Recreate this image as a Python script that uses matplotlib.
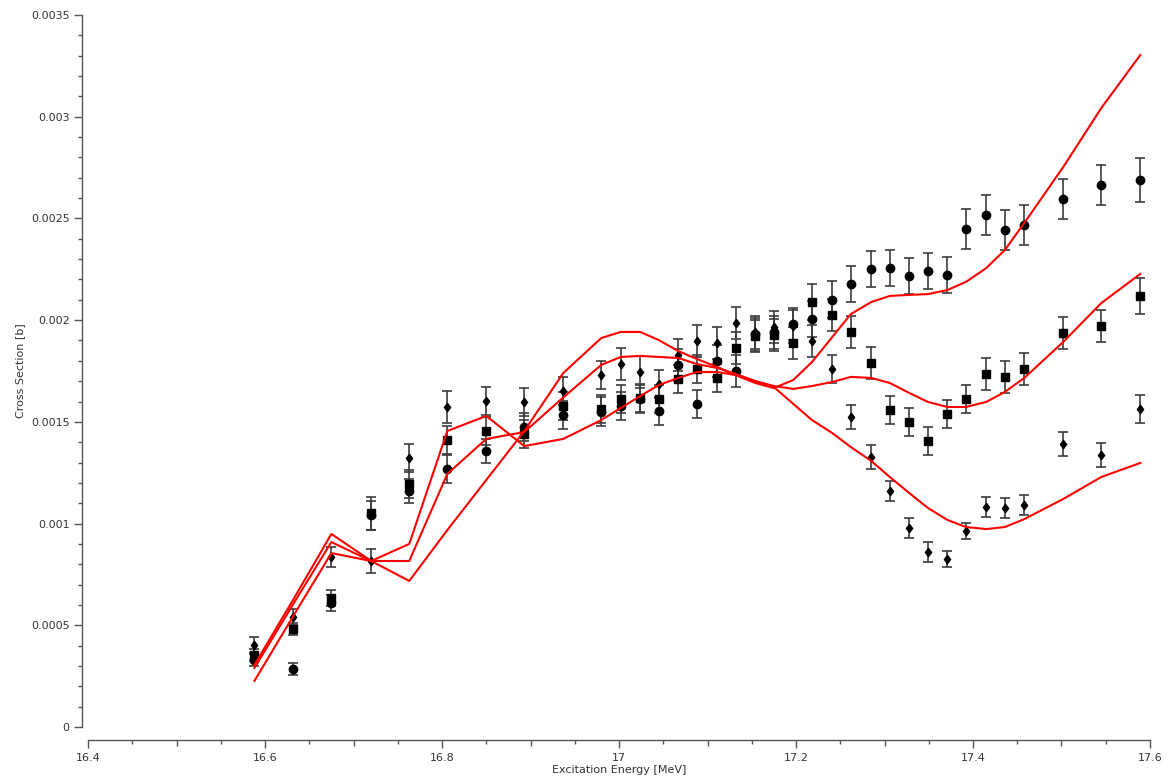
import matplotlib
matplotlib.use("Agg")
import matplotlib.pyplot as plt
from matplotlib.path import Path
from matplotlib.ticker import MultipleLocator, FuncFormatter

# Excitation energies [MeV] of the measured points (model curves share the grid)
energy = [16.588, 16.632, 16.675, 16.720, 16.763, 16.806, 16.850, 16.893,
          16.937, 16.980, 17.002, 17.024, 17.045, 17.067, 17.088, 17.111,
          17.132, 17.154, 17.175, 17.197, 17.218, 17.241, 17.262, 17.285,
          17.306, 17.328, 17.349, 17.371, 17.392, 17.415, 17.436, 17.458,
          17.502, 17.545, 17.589]

# Measured cross sections [b], three data sets
xs_circle = [0.000329, 0.000285, 0.000610, 0.001040, 0.001160, 0.001268, 0.001357,
             0.001475, 0.001534, 0.001550, 0.001578, 0.001612, 0.001553, 0.001780,
             0.001588, 0.001799, 0.001750, 0.001930, 0.001940, 0.001980, 0.002006,
             0.002100, 0.002178, 0.002251, 0.002256, 0.002217, 0.002242, 0.002222,
             0.002448, 0.002517, 0.002443, 0.002468, 0.002595, 0.002664, 0.002689]
err_circle = [0.00003, 0.00003, 0.00004, 0.00007, 0.00006, 0.00007, 0.00006,
              0.00007, 0.00007, 0.00007, 0.00007, 0.00007, 0.00007, 0.00008,
              0.00007, 0.00008, 0.00008, 0.00008, 0.00008, 0.00008, 0.00009,
              0.00009, 0.00009, 0.00009, 0.00009, 0.00009, 0.00009, 0.00009,
              0.00010, 0.00010, 0.00010, 0.00010, 0.00010, 0.00010, 0.00011]

xs_square = [0.000354, 0.000482, 0.000634, 0.001050, 0.001195, 0.001411, 0.001455,
             0.001440, 0.001578, 0.001563, 0.001612, 0.001617, 0.001612, 0.001711,
             0.001760, 0.001716, 0.001863, 0.001922, 0.001927, 0.001888, 0.002089,
             0.002025, 0.001942, 0.001789, 0.001558, 0.001499, 0.001406, 0.001539,
             0.001612, 0.001735, 0.001720, 0.001760, 0.001937, 0.001971, 0.002119]
err_square = [0.00003, 0.00003, 0.00004, 0.00008, 0.00007, 0.00007, 0.00007,
              0.00007, 0.00007, 0.00007, 0.00007, 0.00007, 0.00007, 0.00007,
              0.00007, 0.00007, 0.00008, 0.00008, 0.00008, 0.00008, 0.00009,
              0.00008, 0.00008, 0.00008, 0.00007, 0.00007, 0.00007, 0.00007,
              0.00007, 0.00008, 0.00008, 0.00008, 0.00008, 0.00008, 0.00009]

xs_diamond = [0.000403, 0.000541, 0.000836, 0.000816, 0.001322, 0.001573, 0.001603,
              0.001598, 0.001652, 0.001730, 0.001784, 0.001745, 0.001686, 0.001829,
              0.001897, 0.001888, 0.001986, 0.001940, 0.001966, 0.001970, 0.001898,
              0.001760, 0.001524, 0.001327, 0.001160, 0.000978, 0.000860, 0.000826,
              0.000963, 0.001081, 0.001077, 0.001091, 0.001391, 0.001337, 0.001563]
err_diamond = [0.00004, 0.00004, 0.00005, 0.00006, 0.00007, 0.00008, 0.00007,
               0.00007, 0.00007, 0.00007, 0.00008, 0.00008, 0.00007, 0.00008,
               0.00008, 0.00008, 0.00008, 0.00008, 0.00008, 0.00008, 0.00008,
               0.00007, 0.00006, 0.00006, 0.00005, 0.00005, 0.00005, 0.00004,
               0.00004, 0.00005, 0.00005, 0.00005, 0.00006, 0.00006, 0.00007]

# Model calculations on the same energy grid
model_circle = [0.000305, 0.000627, 0.000949, 0.000816, 0.000900, 0.001455, 0.001529,
                0.001381, 0.001416, 0.001509, 0.001568, 0.001627, 0.001681, 0.001716,
                0.001745, 0.001745, 0.001730, 0.001691, 0.001666, 0.001706, 0.001794,
                0.001917, 0.002030, 0.002089, 0.002119, 0.002124, 0.002128, 0.002148,
                0.002188, 0.002256, 0.002345, 0.002478, 0.002753, 0.003043, 0.003303]
model_square = [0.000290, 0.000605, 0.000909, 0.000816, 0.000816, 0.001244, 0.001416,
                0.001450, 0.001620, 0.001780, 0.001819, 0.001824, 0.001819, 0.001814,
                0.001784, 0.001765, 0.001735, 0.001701, 0.001676, 0.001662, 0.001676,
                0.001696, 0.001721, 0.001716, 0.001691, 0.001642, 0.001598, 0.001573,
                0.001573, 0.001598, 0.001647, 0.001716, 0.001893, 0.002084, 0.002227]
model_diamond = [0.000226, 0.000546, 0.000855, 0.000816, 0.000718, 0.000968, 0.001214,
                 0.001455, 0.001740, 0.001912, 0.001942, 0.001942, 0.001902, 0.001848,
                 0.001809, 0.001770, 0.001730, 0.001696, 0.001671, 0.001588, 0.001509,
                 0.001445, 0.001376, 0.001308, 0.001229, 0.001150, 0.001077, 0.001018,
                 0.000983, 0.000973, 0.000983, 0.001022, 0.001121, 0.001229, 0.001298]

plt.rcParams["font.family"] = ["DejaVu Sans"]

# slightly narrow diamond marker
diamond = Path([(0, 1), (0.75, 0), (0, -1), (-0.75, 0), (0, 1)],
               [Path.MOVETO, Path.LINETO, Path.LINETO, Path.LINETO, Path.CLOSEPOLY])

W, H = 1168, 778
fig = plt.figure(figsize=(W / 100, H / 100), dpi=100)
ax = fig.add_axes([88 / W, (H - 727) / H, (1150 - 88) / W, (727 - 15) / H])

eb_kw = dict(linestyle="none", color="black", ecolor="#3c3c3c",
             elinewidth=1.2, capsize=3.5, capthick=1.2, zorder=2)
ax.errorbar(energy, xs_circle, yerr=err_circle, marker="o", markersize=6, **eb_kw)
ax.errorbar(energy, xs_square, yerr=err_square, marker="s", markersize=5.5, **eb_kw)
ax.errorbar(energy, xs_diamond, yerr=err_diamond, marker=diamond, markersize=6, **eb_kw)

for model in (model_circle, model_square, model_diamond):
    ax.plot(energy, model, color="#ff0000", linewidth=1.5, zorder=3)

ax.set_xlim(16.4, 17.6)
ax.set_ylim(0, 0.0035)

for side in ("top", "right"):
    ax.spines[side].set_visible(False)
ax.spines["left"].set_position(("outward", 4.3))
ax.spines["bottom"].set_position(("outward", 9.5))
for side in ("left", "bottom"):
    ax.spines[side].set_color("#555555")
    ax.spines[side].set_linewidth(1.0)

fmt = FuncFormatter(lambda v, pos: "%g" % round(v, 6))
ax.xaxis.set_major_locator(MultipleLocator(0.2))
ax.xaxis.set_minor_locator(MultipleLocator(0.05))
ax.yaxis.set_major_locator(MultipleLocator(0.0005))
ax.yaxis.set_minor_locator(MultipleLocator(0.0001))
ax.xaxis.set_major_formatter(fmt)
ax.yaxis.set_major_formatter(fmt)

ax.tick_params(which="major", direction="out", length=6, width=1.0,
               color="#555555", labelsize=8, labelcolor="#333333", pad=3)
ax.tick_params(which="minor", direction="out", length=3, width=1.0, color="#555555")

# tenth-MeV ticks on the energy axis are drawn a little longer than the rest
locs = ax.xaxis.get_minorticklocs()
for tick, loc in zip(ax.xaxis.get_minor_ticks(len(locs)), locs):
    if abs(loc * 10 - round(loc * 10)) < 1e-6:
        tick.tick1line.set_markersize(4.5)

ax.set_xlabel("Excitation Energy [MeV]", fontsize=8, color="#333333", labelpad=2)
ax.set_ylabel("Cross Section [b]", fontsize=8, color="#333333", labelpad=4)

fig.savefig("out.png", dpi=100)
